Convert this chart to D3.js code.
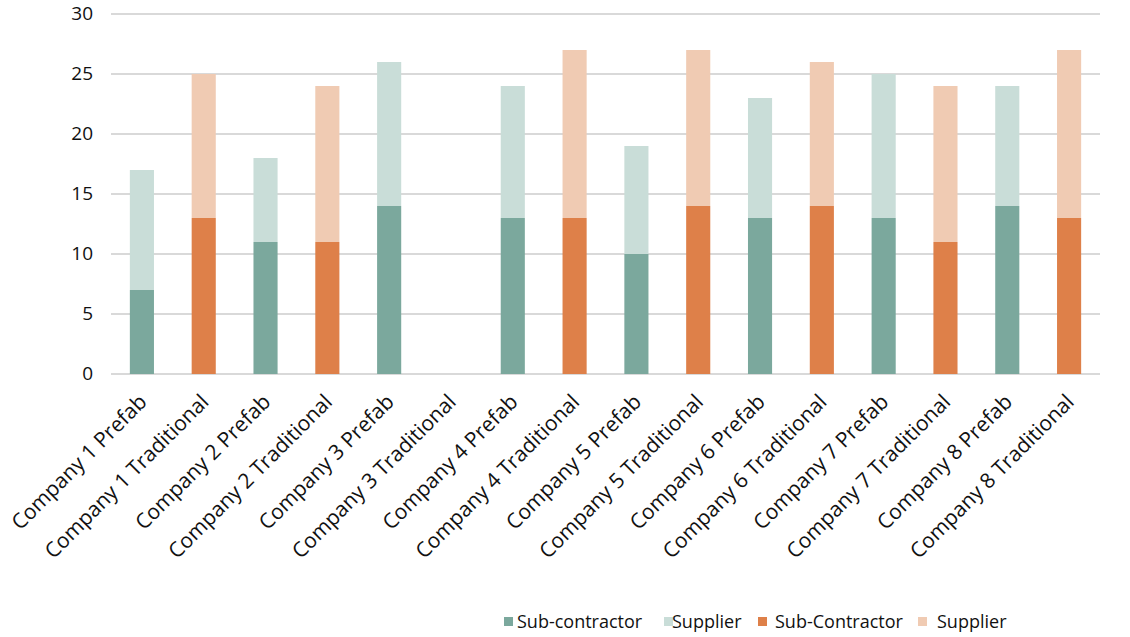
<!DOCTYPE html>
<html>
<head>
<meta charset="utf-8">
<script src="https://cdn.jsdelivr.net/npm/d3@7"></script>
<style>
  body { margin: 0; background: #fff; }
  svg text { font-family: "Open Sans", "Noto Sans", sans-serif; fill: #111; }
</style>
</head>
<body>
<div id="chart"></div>
<script>
const categories = [
  'Company 1 Prefab', 'Company 1 Traditional', 'Company 2 Prefab', 'Company 2 Traditional',
  'Company 3 Prefab', 'Company 3 Traditional', 'Company 4 Prefab', 'Company 4 Traditional',
  'Company 5 Prefab', 'Company 5 Traditional', 'Company 6 Prefab', 'Company 6 Traditional',
  'Company 7 Prefab', 'Company 7 Traditional', 'Company 8 Prefab', 'Company 8 Traditional'
];
// null where the series has no value for that category
const prefabSub      = [7, null, 11, null, 14, null, 13, null, 10, null, 13, null, 13, null, 14, null];
const prefabSupplier = [10, null, 7, null, 12, null, 11, null, 9, null, 10, null, 12, null, 10, null];
const tradSub        = [null, 13, null, 11, null, 0, null, 13, null, 14, null, 14, null, 11, null, 13];
const tradSupplier   = [null, 12, null, 13, null, 0, null, 14, null, 13, null, 12, null, 13, null, 14];
const yTicks = [0, 5, 10, 15, 20, 25, 30];

const series = [
  { name: 'Sub-contractor', values: prefabSub, color: '#7ba89d' },
  { name: 'Supplier', values: prefabSupplier, color: '#c9ddd8' },
  { name: 'Sub-Contractor', values: tradSub, color: '#de8049' },
  { name: 'Supplier', values: tradSupplier, color: '#f0cbb3' }
];

const W = 1130, H = 637;
const svg = d3.select('#chart').append('svg').attr('width', W).attr('height', H);

const x = d3.scaleBand().domain(categories).range([111, 1100]).paddingInner(0.61).paddingOuter(0.305);
const y = d3.scaleLinear().domain([0, 30]).range([374, 14]);

// gridlines
svg.append('g').selectAll('line').data(yTicks).enter().append('line')
  .attr('x1', 111).attr('x2', 1100)
  .attr('y1', d => y(d)).attr('y2', d => y(d))
  .attr('stroke', '#d9d9d9').attr('stroke-width', 2);

// y axis labels
const yAxis = svg.append('g').attr('transform', 'translate(93,0)')
  .call(d3.axisLeft(y).tickValues(yTicks).tickSize(0).tickPadding(0));
yAxis.select('.domain').remove();
yAxis.selectAll('text').attr('font-size', 19).attr('dy', '0.3em');

// stacked bars
categories.forEach((c, i) => {
  let base = 0;
  series.forEach(s => {
    const v = s.values[i];
    if (v == null || v === 0) return;
    svg.append('rect')
      .attr('x', x(c))
      .attr('width', x.bandwidth())
      .attr('y', y(base + v))
      .attr('height', y(base) - y(base + v))
      .attr('fill', s.color);
    base += v;
  });
});

// x axis labels
const xAxis = svg.append('g').attr('transform', 'translate(0,374)')
  .call(d3.axisBottom(x).tickSize(0).tickPadding(0));
xAxis.select('.domain').remove();
xAxis.selectAll('text')
  .attr('font-size', 21)
  .attr('text-anchor', 'end')
  .attr('transform', 'translate(1,24) rotate(-45)')
  .attr('dy', '0.35em')
  .attr('y', 0);

// legend
const legendX = [504, 664, 758, 918];
const textOff = [13, 8, 17, 19];
const legend = svg.append('g');
series.forEach((s, i) => {
  const g = legend.append('g').attr('transform', `translate(${legendX[i]},622)`);
  g.append('rect').attr('x', 0).attr('y', -5).attr('width', 9).attr('height', 9).attr('fill', s.color);
  g.append('text').attr('x', textOff[i]).attr('y', 0).attr('dy', '0.35em')
    .attr('font-size', 18).text(s.name);
});
</script>
</body>
</html>
